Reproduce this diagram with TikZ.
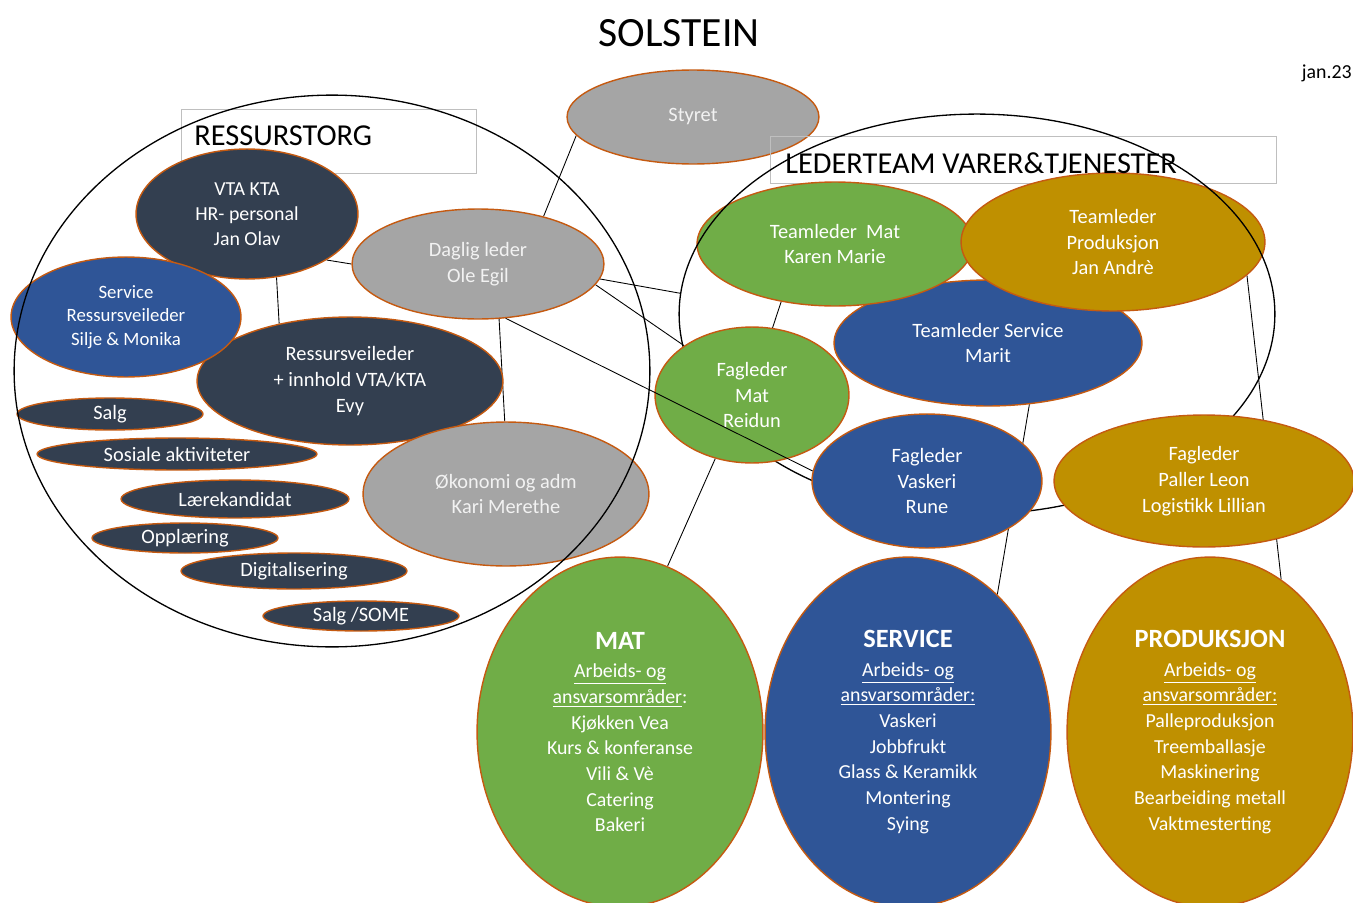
\documentclass[tikz,border=0pt]{standalone}
\usepackage{fontspec}
\setmainfont{Carlito}
\usetikzlibrary{shapes.geometric}
\pgfdeclarelayer{background}
\pgfsetlayers{background,main}
\definecolor{navy}{RGB}{51,63,80}
\definecolor{stone}{RGB}{165,165,165}
\definecolor{leaf}{RGB}{112,173,71}
\definecolor{sea}{RGB}{47,85,151}
\definecolor{gold}{RGB}{191,144,0}
\definecolor{rim}{RGB}{197,90,17}
\definecolor{boxline}{RGB}{191,191,191}
\definecolor{paletext}{RGB}{242,242,242}
\newcommand\areafont{\fontsize{15}{17}\selectfont\bfseries}
\tikzset{
    blob/.style={ellipse, draw=rim, line width=0.8pt, inner sep=0pt, align=center,
        text=white, font=\fontsize{11.6}{14.7}\selectfont},
    stoneblob/.style={blob, fill=stone, text=paletext},
    bigblob/.style={blob, ellsize={143}{175}, font=\fontsize{11.3}{14.6}\selectfont},
    ellsize/.style 2 args={minimum width=#1*0.04cm, minimum height=#2*0.04cm},
    ring/.style={ellipse, draw=black, line width=0.75pt, inner sep=0pt},
    conn/.style={draw=black, line width=0.5pt},
    heading/.style={inner sep=0pt, font=\fontsize{17.3}{20}\selectfont}
}

\begin{document}
\begin{tikzpicture}[x=0.02cm, y=-0.02cm]
    \useasboundingbox (0,0) rectangle (1353,903);

    \node[anchor=base, font=\fontsize{23.7}{28}\selectfont] (title) at (679,46) {SOLSTEIN};
    \node[anchor=base east, inner sep=0pt, font=\fontsize{11.3}{13}\selectfont] (date) at (1352,78) {jan.23};

    % ressurstorg
    \draw[boxline] (181,109) rectangle (476,173);
    \node[blob, fill=navy, ellsize={111}{65}, font=\fontsize{11.3}{14.2}\selectfont] (vta) at (247,214) {VTA KTA\\HR- personal\\Jan Olav};
    \node[blob, fill=navy, ellsize={153}{64}] (resv) at (350,381) {Ressursveileder\\+ innhold VTA/KTA\\Evy};
    \node[blob, fill=sea, ellsize={115}{60}, font=\fontsize{10.7}{13.3}\selectfont] (servres) at (126,317) {Service\\Ressursveileder\\Silje \& Monika};
    \node[blob, fill=navy, ellsize={93}{16}] (salg) at (110,414) {Salg};
    \node[blob, fill=navy, ellsize={140}{16}] (sosial) at (177,454) {Sosiale aktiviteter};
    \node[blob, fill=navy, ellsize={114}{19}] (laere) at (235,499) {Lærekandidat};
    \node[blob, fill=navy, ellsize={93}{15}] (oppl) at (185,538) {Opplæring};
    \node[blob, fill=navy, ellsize={113}{18}] (digi) at (294,571) {Digitalisering};
    \node[blob, fill=navy, ellsize={98}{15}] (salgsome) at (361,616) {Salg /SOME};
    \node[stoneblob, ellsize={126}{55}] (daglig) at (478,264) {Daglig leder\\Ole Egil};
    \node[stoneblob, ellsize={143}{72}] (okonomi) at (506,494) {Økonomi og adm\\Kari Merethe};
    \node[stoneblob, ellsize={126}{47}] (styret) at (693,117) {Styret};
    \node[ring, ellsize={318}{276}] (resring) at (332,371) {};
    \node[heading, anchor=base west] (reslabel) at (194,145) {RESSURSTORG};

    % lederteam
    \draw[boxline] (770,136) rectangle (1276,183);
    \node[blob, fill=sea, ellsize={154}{63}] (tlservice) at (988,343) {Teamleder Service\\Marit};
    \node[blob, fill=leaf, ellsize={138}{62}] (tlmat) at (835,244) {Teamleder\ \ Mat\\Karen Marie};
    \node[blob, fill=gold, ellsize={152}{69}] (tlprod) at (1113,242) {Teamleder\\Produksjon\\Jan Andrè};
    \node[ring, ellsize={298}{200}] (ltring) at (977,314) {};
    \node[blob, fill=leaf, ellsize={97}{68}] (fmat) at (752,395) {Fagleder\\Mat\\Reidun};
    \node[blob, fill=sea, ellsize={115}{67}] (fvask) at (927,481) {Fagleder\\Vaskeri\\Rune};
    \node[blob, fill=gold, ellsize={150}{66}] (fpaller) at (1204,481) {Fagleder\\Paller Leon\\Logistikk Lillian};
    \node[heading, anchor=base west] (ltlabel) at (785,173) {LEDERTEAM VARER\&TJENESTER};

    % arbeidsomraader
    \node[bigblob, fill=leaf] (mat) at (620,732) {{\areafont MAT}\\[1.6pt]
        \underline{Arbeids- og}\\\underline{ansvarsområder}:\\Kjøkken Vea\\Kurs \& konferanse\\Vili \& Vè\\Catering\\Bakeri};
    \node[bigblob, fill=sea] (service) at (908,732) {{\areafont SERVICE}\\[1.6pt]
        \underline{Arbeids- og}\\\underline{ansvarsområder:}\\Vaskeri\\Jobbfrukt\\Glass \& Keramikk\\Montering\\Sying};
    \node[bigblob, fill=gold] (prod) at (1210,732) {{\areafont PRODUKSJON}\\[1.6pt]
        \underline{Arbeids- og}\\\underline{ansvarsområder:}\\Palleproduksjon\\Treemballasje\\Maskinering\\Bearbeiding metall\\Vaktmesterting};

    \begin{pgfonlayer}{background}
        \draw[conn] (styret.189) -- (daglig.36);
        \draw[conn] (vta.330) -- (daglig.180);
        \draw[conn] (vta.295) -- (resv.141);
        \draw[conn] (daglig.291) -- (okonomi.91);
        \draw[conn] (daglig.353) -- (ltring.176);
        \draw[conn] (daglig.350) -- (fmat.144);
        \draw[conn] (tlmat.227) -- (fmat.73);
        \draw[conn] (fmat.240) -- (mat.74);
        \draw[conn] (tlservice.304) -- (service.57);
        \draw[conn] (tlprod.346) -- (prod.65);
    \end{pgfonlayer}
    \draw[conn] (daglig.297) -- (fvask.175);
\end{tikzpicture}
\end{document}
